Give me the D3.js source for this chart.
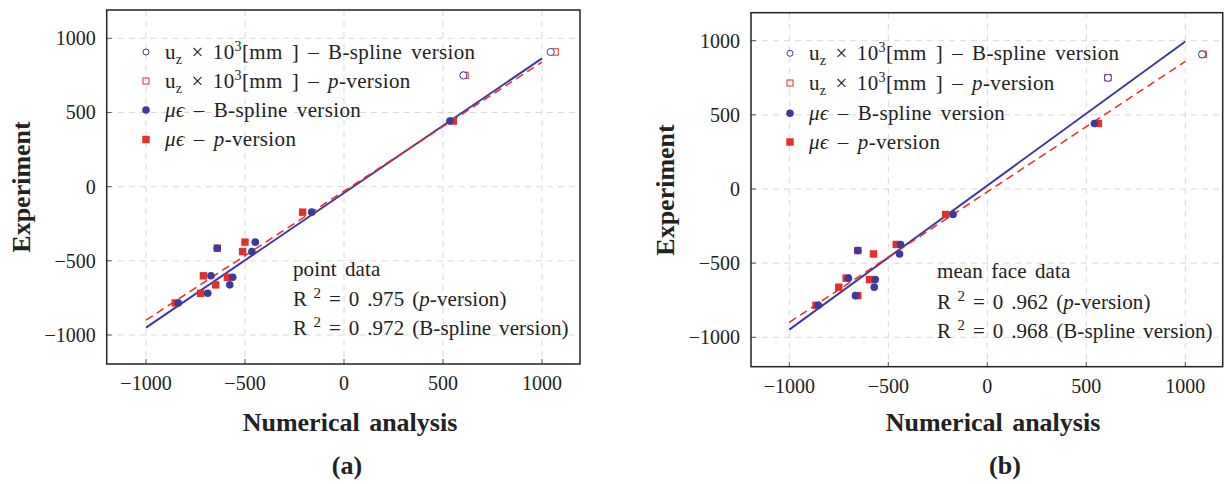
<!DOCTYPE html>
<html>
<head>
<meta charset="utf-8">
<script src="https://cdn.jsdelivr.net/npm/d3@7"></script>
<style>
  body { margin: 0; background: #fff; }
  svg { display: block; font-family: "Liberation Serif", "Times New Roman", serif; }
</style>
</head>
<body>
<div id="svgchart"></div>
<script>
// experiment values (shared by both panels), first 2 are u_z x 10^3, rest are micro-strain
var experiment = [908, 750, 442, -172, -415, -374, -438, -601, -611, -662, -719, -784];
var nDisp = 2;

// (a) point data
var numA_bspline = [1044, 603, 535, -163, -640, -448, -465, -672, -562, -577, -688, -837];
var numA_pversion = [1066, 611, 552, -209, -640, -500, -512, -710, -589, -648, -724, -852];
// (b) mean face data
var numB_bspline = [1085, 609, 541, -173, -654, -438, -443, -701, -566, -571, -666, -853];
var numB_pversion = [1090, 609, 561, -210, -654, -460, -575, -713, -595, -750, -654, -865];

// fitted lines, evaluated at fitX
var fitX = [-1000, 1000];
var fitA_bspline = [-950, 865];
var fitA_pversion = [-900, 840];
var fitB_bspline = [-948, 995];
var fitB_pversion = [-899, 860];

var ticks = [-1000, -500, 0, 500, 1000];
var annotA = ['point data', '0 .975', '0 .972'];
var annotB = ['mean face data', '0 .962', '0 .968'];

var blue = '#3f399e', red = '#e2302a';

var svg = d3.select('#svgchart')
  .append('svg')
  .attr('width', 1225)
  .attr('height', 484);

function drawPanel(p) {
  var x = d3.scaleLinear().domain([-1000, 1000]).range(p.xr);
  var y = d3.scaleLinear().domain([-1000, 1000]).range(p.yr);
  var g = svg.append('g');

  // grid
  g.selectAll('.gx').data(ticks).enter().append('line')
    .attr('x1', d => x(d)).attr('x2', d => x(d))
    .attr('y1', p.top).attr('y2', p.bottom)
    .style('stroke', '#d9d9d9').style('stroke-dasharray', '6,5');
  g.selectAll('.gy').data(ticks).enter().append('line')
    .attr('y1', d => y(d)).attr('y2', d => y(d))
    .attr('x1', p.left).attr('x2', p.right)
    .style('stroke', '#d9d9d9').style('stroke-dasharray', '6,5');

  // inward ticks
  g.selectAll('.tx').data(ticks).enter().append('line')
    .attr('x1', d => x(d)).attr('x2', d => x(d))
    .attr('y1', p.bottom).attr('y2', p.bottom - 5)
    .style('stroke', '#555');
  g.selectAll('.ty').data(ticks).enter().append('line')
    .attr('y1', d => y(d)).attr('y2', d => y(d))
    .attr('x1', p.left).attr('x2', p.left + 5)
    .style('stroke', '#555');

  // tick labels
  var fmt = d3.format('d');
  g.selectAll('.lx').data(ticks).enter().append('text')
    .attr('x', d => x(d)).attr('y', p.bottom + 26)
    .attr('text-anchor', 'middle').style('font-size', '20px').style('fill', '#222')
    .text(fmt);
  g.selectAll('.ly').data(ticks).enter().append('text')
    .attr('x', p.left - 11).attr('y', d => y(d) + 7)
    .attr('text-anchor', 'end').style('font-size', '20px').style('fill', '#222')
    .text(fmt);

  // fit lines
  var line = d3.line().x(d => x(d[0])).y(d => y(d[1]));
  g.append('path').datum(d3.zip(fitX, p.fitB))
    .attr('d', line).style('fill', 'none').style('stroke', blue).style('stroke-width', 2);
  g.append('path').datum(d3.zip(fitX, p.fitP))
    .attr('d', line).style('fill', 'none').style('stroke', red).style('stroke-width', 1.5)
    .style('stroke-dasharray', '8,5');

  // markers
  var pts = experiment.map((e, i) => ({ e: e, b: p.numB[i], p: p.numP[i], disp: i < nDisp }));
  g.selectAll('.sq').data(pts).enter().append('rect')
    .attr('x', d => x(d.p) - (d.disp ? 3.2 : 3.7))
    .attr('y', d => y(d.e) - (d.disp ? 3.2 : 3.7))
    .attr('width', d => d.disp ? 6.4 : 7.4)
    .attr('height', d => d.disp ? 6.4 : 7.4)
    .style('fill', d => d.disp ? 'none' : red)
    .style('stroke', d => d.disp ? red : 'none')
    .style('stroke-width', 1);
  g.selectAll('.ci').data(pts).enter().append('circle')
    .attr('cx', d => x(d.b)).attr('cy', d => y(d.e))
    .attr('r', d => d.disp ? 3.6 : 3.8)
    .style('fill', d => d.disp ? '#fff' : blue)
    .style('stroke', d => d.disp ? blue : 'none')
    .style('stroke-width', 1);

  // frame
  g.append('rect')
    .attr('x', p.left).attr('y', p.top)
    .attr('width', p.right - p.left).attr('height', p.bottom - p.top)
    .style('fill', 'none').style('stroke', '#222').style('stroke-width', 1.5);

  // legend
  var lg = g.append('g');
  var rows = p.legY;
  lg.append('circle').attr('cx', p.legX).attr('cy', rows[0]).attr('r', 3)
    .style('fill', 'none').style('stroke', blue);
  lg.append('rect').attr('x', p.legX - 3).attr('y', rows[1] - 3).attr('width', 6).attr('height', 6)
    .style('fill', 'none').style('stroke', red);
  lg.append('circle').attr('cx', p.legX).attr('cy', rows[2]).attr('r', 3.8)
    .style('fill', blue);
  lg.append('rect').attr('x', p.legX - 3.7).attr('y', rows[3] - 3.7).attr('width', 7.4).attr('height', 7.4)
    .style('fill', red);

  function uz(t, tail) {
    t.append('tspan').text('u');
    t.append('tspan').attr('dy', 5).style('font-size', '14px').text('z');
    t.append('tspan').attr('dy', -5).text(' × 10');
    t.append('tspan').attr('dy', -8).style('font-size', '14px').text('3');
    t.append('tspan').attr('dy', 8).text('[mm ] – ');
    tail(t);
  }
  function mueps(t, tail) {
    t.append('tspan').style('font-style', 'italic').text('μϵ');
    t.append('tspan').text(' – ');
    tail(t);
  }
  function bs(t) { t.append('tspan').text('B-spline version'); }
  function pv(t) {
    t.append('tspan').style('font-style', 'italic').text('p');
    t.append('tspan').text('-version');
  }
  var legend = [[uz, bs], [uz, pv], [mueps, bs], [mueps, pv]];
  legend.forEach(function (l, i) {
    var t = lg.append('text').attr('x', p.legX + 19).attr('y', rows[i] + 6.5)
      .style('font-size', '21px').style('fill', '#222')
      .style('word-spacing', '3.5px').style('letter-spacing', '0.35px');
    l[0](t, l[1]);
  });

  // annotation
  var an = g.append('g').style('font-size', '21px').style('fill', '#222')
    .style('letter-spacing', '0.1px');
  an.append('text').attr('x', p.annX).attr('y', p.annY[0]).style('word-spacing', '3px').text(p.annot[0]);
  [1, 2].forEach(function (k) {
    var t = an.append('text').attr('x', p.annX).attr('y', p.annY[k]).style('word-spacing', '2.5px');
    t.append('tspan').text('R');
    t.append('tspan').attr('dy', -8).style('font-size', '15px').text(' 2');
    t.append('tspan').attr('dy', 8).text(' = ' + p.annot[k] + ' (');
    if (k === 1) {
      t.append('tspan').style('font-style', 'italic').text('p');
      t.append('tspan').text('-version)');
    } else {
      t.append('tspan').text('B-spline version)');
    }
  });

  // axis titles
  g.append('text')
    .attr('transform', 'translate(' + p.ytX + ',' + p.ytY + ') rotate(-90)')
    .attr('text-anchor', 'middle').style('font-size', '26px').style('font-weight', 'bold')
    .style('fill', '#222').text('Experiment');
  g.append('text')
    .attr('x', p.xtX).attr('y', 431)
    .attr('text-anchor', 'middle').style('font-size', '26px').style('font-weight', 'bold')
    .style('fill', '#222').style('word-spacing', '3px').text('Numerical analysis');
  g.append('text')
    .attr('x', p.capX).attr('y', 474)
    .attr('text-anchor', 'middle').style('font-size', '26px').style('font-weight', 'bold')
    .style('fill', '#222').text(p.caption);
}

drawPanel({
  xr: [146, 542], yr: [335, 38.3],
  left: 106.7, right: 580, top: 10, bottom: 364,
  numB: numA_bspline, numP: numA_pversion, fitB: fitA_bspline, fitP: fitA_pversion,
  legX: 146, legY: [52, 81, 110, 139.5],
  annX: 293, annY: [276, 305.5, 335], annot: annotA,
  ytX: 30, ytY: 187, xtX: 350, capX: 347, caption: '(a)'
});
drawPanel({
  xr: [789.3, 1185.3], yr: [337.3, 40.7],
  left: 751, right: 1222.7, top: 12.7, bottom: 366.7,
  numB: numB_bspline, numP: numB_pversion, fitB: fitB_bspline, fitP: fitB_pversion,
  legX: 790, legY: [53.3, 83, 113.3, 142],
  annX: 937, annY: [278, 309, 338], annot: annotB,
  ytX: 674, ytY: 190, xtX: 993, capX: 1005, caption: '(b)'
});
</script>
</body>
</html>
